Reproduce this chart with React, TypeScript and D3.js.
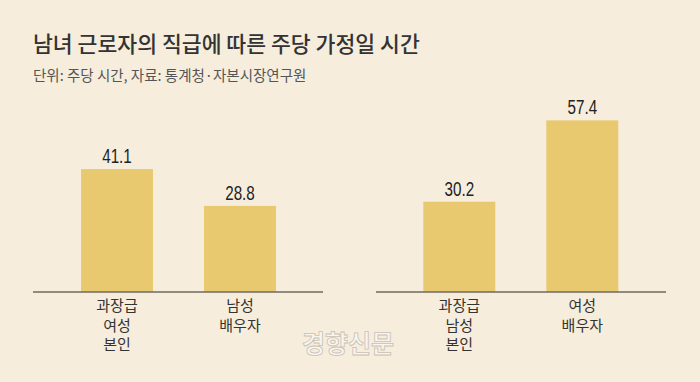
import React from "react";
import * as d3 from "d3";

const title = "남녀 근로자의 직급에 따른 주당 가정일 시간";
const subtitle = "단위: 주당 시간, 자료: 통계청·자본시장연구원";

const leftCategories = ["과장급\n여성\n본인", "남성\n배우자"];
const leftValues = [41.1, 28.8];
const rightCategories = ["과장급\n남성\n본인", "여성\n배우자"];
const rightValues = [30.2, 57.4];

const W = 700;
const H = 382;
const BASE = 292;
const BG = "#f6eddd";
const BAR = "#e9c96f";
const KR = "'Noto Sans CJK KR', 'Noto Sans', sans-serif";
const NUM = "'Liberation Sans', Arial, sans-serif";

const y = d3.scaleLinear().domain([0, 60]).range([BASE, BASE - 60 * 2.99]);

function Panel({ cats, vals, range, axis }: { cats: string[]; vals: number[]; range: [number, number]; axis: [number, number] }) {
  const x = d3.scaleBand<string>().domain(cats).range(range).paddingInner(0.415).paddingOuter(0.2075);
  return (
    <g>
      {cats.map((c, i) => {
        const x0 = x(c)!;
        const cx = x0 + x.bandwidth() / 2;
        const v = vals[i];
        return (
          <g key={c}>
            <rect x={x0} y={y(v)} width={x.bandwidth()} height={BASE - y(v)} fill={BAR} />
            <text transform={`translate(${cx},${y(v) - 6}) scale(0.78,1)`} textAnchor="middle" fontFamily={NUM} fontSize={19.5} fill="#222">
              {d3.format(".1f")(v)}
            </text>
            {c.split("\n").map((line, j) => (
              <text key={j} x={cx} y={311 + j * 19.5} textAnchor="middle" fontFamily={KR} fontSize={15} fill="#333">
                {line}
              </text>
            ))}
          </g>
        );
      })}
      <line x1={axis[0]} x2={axis[1]} y1={BASE} y2={BASE} stroke="#6f6a5f" strokeWidth={1.5} />
    </g>
  );
}

export default function App() {
  return (
    <svg width={W} height={H} style={{ display: "block", position: "absolute", left: 0, top: 0 }}>
      <rect width={W} height={H} fill={BG} />
      <text x={33} y={52} fontFamily={KR} fontSize={21.6} fontWeight={500} fill="#333">
        {title}
      </text>
      <text x={33} y={81} fontFamily={KR} fontSize={14.5} fill="#555">
        {subtitle}
      </text>
      <Panel cats={leftCategories} vals={leftValues} range={[55.5, 301.5]} axis={[33, 323]} />
      <Panel cats={rightCategories} vals={rightValues} range={[397.8, 643.8]} axis={[376, 666]} />
      <text x={348} y={353} textAnchor="middle" fontFamily={KR} fontSize={25} fontWeight={700} fill="#f8f5ef" stroke="#c9c1b4" strokeWidth={0.8}>
        경향신문
      </text>
    </svg>
  );
}
